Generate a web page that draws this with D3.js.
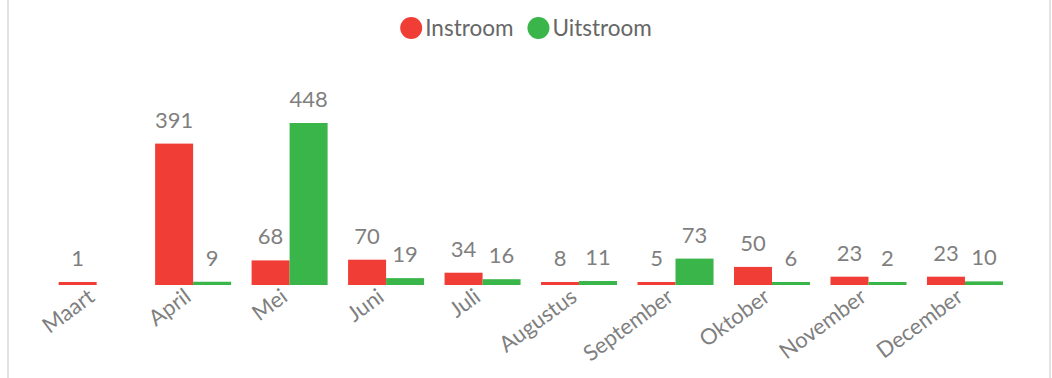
<!DOCTYPE html>
<html>
<head>
<meta charset="utf-8">
<script src="https://cdn.jsdelivr.net/npm/d3@7"></script>
<style>
  html, body { margin: 0; padding: 0; background: #ffffff; }
  svg { display: block; }
  text { font-family: Lato, "Open Sans", sans-serif; }
</style>
</head>
<body>
<svg id="chart" width="1052" height="378"></svg>
<script>
// Maandelijkse in- en uitstroom
const months = ["Maart", "April", "Mei", "Juni", "Juli", "Augustus", "September", "Oktober", "November", "December"];
const instroom = [1, 391, 68, 70, 34, 8, 5, 50, 23, 23];
const uitstroom = [null, 9, 448, 19, 16, 11, 73, 6, 2, 10];
const seriesNames = ["Instroom", "Uitstroom"];
const seriesColors = ["#F03E36", "#3AB54A"];

const W = 1052, H = 378;
const baseline = 285;
const svg = d3.select("#chart");

// frame
svg.append("rect")
  .attr("x", 8).attr("y", -4)
  .attr("width", 1042).attr("height", H + 8)
  .attr("fill", "none")
  .attr("stroke", "#e2e2e2")
  .attr("stroke-width", 2);

const x0 = d3.scaleBand().domain(months).range([48.4, 1013.2]).paddingInner(0).paddingOuter(0);
const groupW = 76;
const x1 = d3.scaleBand().domain(seriesNames).range([0, groupW]);
const y = d3.scaleLinear().domain([0, 448]).range([baseline, 123]);

const rows = months.map((m, i) => ({ month: m, values: [instroom[i], uitstroom[i]] }));

const groups = svg.append("g").selectAll("g")
  .data(rows).join("g")
  .attr("transform", d => `translate(${x0(d.month) + (x0.bandwidth() - groupW) / 2},0)`);

const minH = 3;
const cells = groups.selectAll("g.cell")
  .data(d => d.values.map((v, j) => ({ v, s: seriesNames[j], c: seriesColors[j] })).filter(e => e.v != null))
  .join("g").attr("class", "cell");

cells.append("rect")
  .attr("x", d => x1(d.s))
  .attr("width", x1.bandwidth())
  .attr("y", d => baseline - Math.max(minH, baseline - y(d.v)))
  .attr("height", d => Math.max(minH, baseline - y(d.v)))
  .attr("fill", d => d.c);

cells.append("text")
  .attr("x", d => x1(d.s) + x1.bandwidth() / 2)
  .attr("y", d => baseline - Math.max(minH, baseline - y(d.v)) - 16)
  .attr("text-anchor", "middle")
  .attr("font-size", 22)
  .attr("fill", "#7f7f7f")
  .text(d => d.v);

// category labels
const xAxis = d3.axisBottom(x0).tickSize(0).tickPadding(0);
const axisG = svg.append("g").attr("transform", `translate(0,${baseline})`).call(xAxis);
axisG.select(".domain").remove();
axisG.selectAll(".tick text")
  .attr("font-family", "Lato, 'Open Sans', sans-serif")
  .attr("font-size", 22)
  .attr("fill", "#7f7f7f")
  .attr("text-anchor", "end")
  .attr("x", 0).attr("y", 0).attr("dy", "0.72em")
  .attr("transform", "translate(-10,2) rotate(-36.5)");

// legend
const legend = svg.append("g");
let cx = 0;
seriesNames.forEach((name, i) => {
  const g = legend.append("g").attr("transform", `translate(${cx},0)`);
  g.append("circle").attr("cx", 11).attr("cy", 28).attr("r", 11).attr("fill", seriesColors[i]);
  const t = g.append("text").attr("x", 25).attr("y", 36)
    .attr("font-size", 22.5).attr("fill", "#666666").text(name);
  cx += 25 + t.node().getComputedTextLength() + 14;
});
const legendW = cx - 14;
legend.attr("transform", `translate(${(W - legendW) / 2},0)`);
</script>
</body>
</html>
